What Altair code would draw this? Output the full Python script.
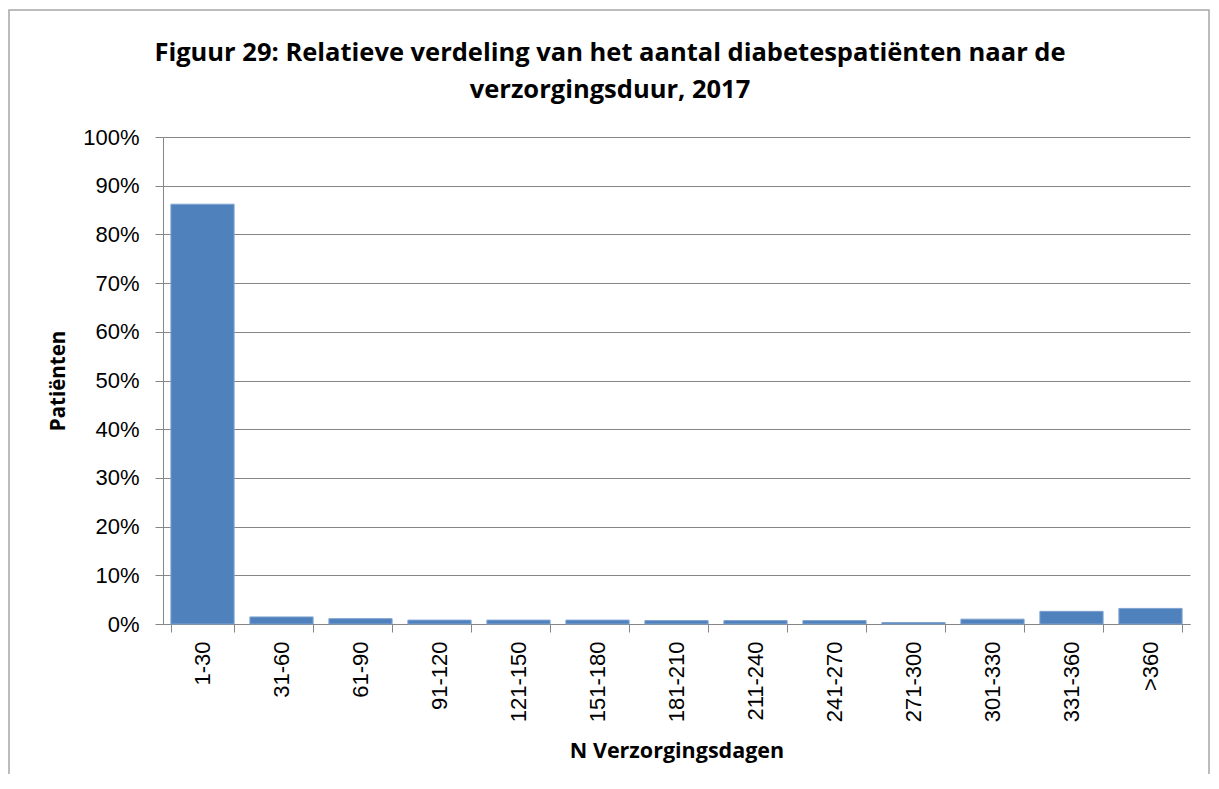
import altair as alt
import pandas as pd

categories = ["1-30", "31-60", "61-90", "91-120", "121-150", "151-180", "181-210",
              "211-240", "241-270", "271-300", "301-330", "331-360", ">360"]
values = [86.2, 1.45, 1.1, 0.8, 0.8, 0.8, 0.7, 0.7, 0.7, 0.3, 1.0, 2.6, 3.2]
title_lines = ["Figuur 29: Relatieve verdeling van het aantal diabetespatiënten naar de",
               "verzorgingsduur, 2017"]

df = pd.DataFrame({"cat": categories, "val": [v / 100 for v in values]})

TFONT = "Open Sans"
LFONT = "Liberation Sans"

bars = alt.Chart(df).mark_bar(color="#4F81BD", stroke="#7FA3D0", strokeWidth=1).encode(
    x=alt.X("cat:N", sort=categories, title="N Verzorgingsdagen",
            scale=alt.Scale(paddingInner=0.2, paddingOuter=0.1),
            axis=alt.Axis(labelAngle=-90, labelFontSize=22, labelFont=LFONT, labelColor="#000",
                          labelPadding=9, tickBand="extent", tickSize=8, tickColor="#868686",
                          domainColor="#868686", titleFontSize=21.5, titleFont=TFONT,
                          titleFontWeight="bold", titleColor="#000", titlePadding=19)),
    y=alt.Y("val:Q", title="Patiënten",
            scale=alt.Scale(domain=[0, 1]),
            axis=alt.Axis(format=".0%", values=[i / 10 for i in range(11)], labelFontSize=22,
                          labelFont=LFONT, labelColor="#000", labelPadding=16, tickSize=8,
                          tickColor="#868686", domainColor="#868686", gridColor="#868686",
                          titleFontSize=20.5, titleFont=TFONT, titleFontWeight="bold",
                          titleColor="#000", titlePadding=14)),
)

border = alt.Chart(pd.DataFrame({"a": [0]})).mark_rect(
    fill=None, stroke="#A6A6A6", strokeWidth=1.5
).encode(x=alt.value(-154), x2=alt.value(1046), y=alt.value(-127), y2=alt.value(800))

tdf = pd.DataFrame({"line": title_lines, "idx": [0, 1]})
title = alt.Chart(tdf).mark_text(
    font=TFONT, fontSize=25.5, fontWeight="bold", color="#000", align="center", baseline="middle"
).encode(
    text="line:N",
    x=alt.value(447),
    y=alt.Y("idx:Q", scale=alt.Scale(domain=[0, 1], range=[-84, -47]), axis=None),
)

chart = alt.layer(border, bars, title).resolve_scale(y="independent").properties(
    width=1027, height=487,
    autosize=alt.AutoSizeParams(type="none"),
    padding={"left": 155, "top": 129, "right": 21, "bottom": 150},
).configure_view(stroke=None).configure_axisX(grid=False).configure_axisY(grid=True)

chart.save("out.html", embed_options={"renderer": "svg", "actions": False})
